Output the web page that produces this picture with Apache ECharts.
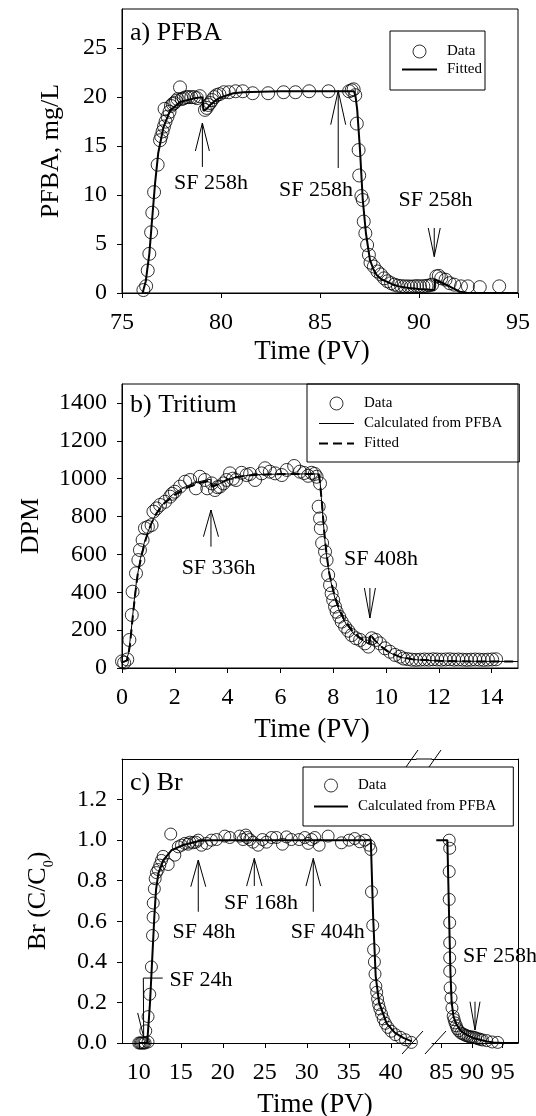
<!DOCTYPE html>
<html>
<head>
<meta charset="utf-8">
<script src="https://cdn.jsdelivr.net/npm/echarts@6/dist/echarts.min.js"></script>
<style>html,body{margin:0;padding:0;background:#fff}#c{width:536px;height:1116px}</style>
</head>
<body>
<div id="c"></div>
<script>
// ---------------- DATA ----------------
// a) PFBA  [time (PV), mg/L]
const pfbaData = [[76.08,0.3],[76.22,0.7],[76.3,2.3],[76.38,4.0],[76.47,6.2],[76.53,8.2],[76.62,10.3],[76.8,13.1],[76.92,15.6],[76.98,16.0],[77.05,16.5],[77.12,17.0],[77.2,17.5],[77.15,18.8],[77.3,18.0],[77.4,18.5],[77.47,19.1],[77.56,19.3],[77.64,19.4],[77.73,19.6],[77.81,19.8],[77.93,21.0],[78.02,19.8],[78.12,19.9],[78.24,20.0],[78.36,20.0],[78.5,20.0],[78.64,20.0],[78.78,19.9],[78.93,20.1],[79.19,18.7],[79.28,18.9],[79.36,19.2],[79.45,19.4],[79.55,19.7],[79.66,20.0],[79.78,20.2],[79.92,20.3],[80.14,20.5],[80.4,20.5],[80.74,20.6],[81.1,20.6],[81.6,20.4],[82.38,20.4],[83.16,20.5],[83.76,20.5],[84.45,20.6],[85.43,20.6],[86.47,20.6],[86.6,20.7],[86.7,20.8],[86.78,20.2],[86.86,17.3],[86.95,14.6],[86.98,12.0],[87.09,9.9],[87.16,9.5],[87.21,7.3],[87.29,6.1],[87.38,4.9],[87.47,3.9],[87.55,3.1],[87.72,2.7],[87.9,2.2],[88.07,1.9],[88.24,1.5],[88.41,1.2],[88.59,1.0],[88.76,0.85],[88.93,0.75],[89.1,0.7],[89.27,0.68],[89.45,0.68],[89.6,0.65],[89.75,0.68],[89.9,0.7],[90.05,0.68],[90.22,0.7],[90.38,0.72],[90.52,0.78],[90.66,0.85],[90.88,1.7],[91.0,1.75],[91.12,1.5],[91.34,1.36],[91.55,1.0],[91.78,0.85],[92.12,0.68],[92.47,0.68],[93.07,0.6],[94.05,0.68]];
const pfbaFit = [[76.04,0],[76.2,1.2],[76.38,4.0],[76.5,7.0],[76.67,11.2],[76.83,14.3],[77.09,16.9],[77.42,18.6],[77.93,19.5],[78.6,19.85],[79.05,20.0],[79.12,18.6],[79.3,18.85],[79.5,19.3],[79.75,19.7],[79.95,19.95],[80.62,20.4],[81.13,20.5],[82,20.55],[83,20.6],[86.72,20.6],[86.8,20.0],[86.88,18.7],[87.02,14.6],[87.16,9.5],[87.32,6.1],[87.52,3.4],[87.7,2.4],[87.86,1.84],[88.1,1.4],[88.37,1.16],[88.7,0.85],[89.04,0.65],[89.5,0.5],[90,0.4],[90.78,0.31],[90.81,1.4],[91.1,1.1],[91.4,0.82],[91.75,0.45],[92.07,0.14],[92.41,0.02],[93,0],[95,0]];

// b) Tritium [time (PV), DPM]
const tritiumData = [[0.0,35],[0.08,28],[0.2,45],[0.28,148],[0.37,280],[0.4,403],[0.53,500],[0.62,570],[0.68,623],[0.78,676],[0.87,738],[0.98,745],[1.12,755],[1.19,826],[1.31,843],[1.44,861],[1.63,878],[1.82,905],[1.9,920],[2.0,931],[2.2,958],[2.39,984],[2.58,993],[2.8,949],[2.95,1010],[3.14,993],[3.23,949],[3.4,975],[3.52,940],[3.62,955],[3.71,958],[3.84,975],[3.96,993],[4.09,1028],[4.2,1000],[4.32,993],[4.53,1031],[4.72,1019],[4.85,1025],[5.04,993],[5.29,1028],[5.42,1055],[5.6,1037],[5.8,1028],[6.05,1019],[6.24,1046],[6.52,1067],[6.74,1037],[6.9,1030],[7.05,1015],[7.18,1031],[7.3,1025],[7.37,1010],[7.5,975],[7.45,852],[7.5,790],[7.53,738],[7.58,660],[7.69,614],[7.75,570],[7.81,491],[7.88,438],[7.94,394],[8.0,359],[8.07,324],[8.13,297],[8.23,271],[8.32,245],[8.45,218],[8.57,197],[8.7,174],[8.86,157],[9.02,148],[9.2,130],[9.33,113],[9.46,157],[9.62,148],[9.77,130],[9.96,104],[10.15,86],[10.34,69],[10.53,60],[10.66,50],[10.82,47],[10.98,44],[11.14,43],[11.3,44],[11.46,45],[11.62,44],[11.78,46],[11.94,45],[12.1,44],[12.26,45],[12.42,46],[12.58,44],[12.74,45],[12.9,44],[13.06,43],[13.22,44],[13.38,45],[13.54,44],[13.7,43],[13.86,44],[14.02,45],[14.17,46]];
const tritiumCalc = [[0,30],[0.15,35],[0.25,80],[0.35,200],[0.45,340],[0.55,460],[0.7,580],[0.85,665],[1.0,725],[1.2,790],[1.4,840],[1.7,890],[2.0,925],[2.4,958],[2.8,980],[3.2,993],[3.36,997],[3.4,955],[3.6,965],[3.9,990],[4.3,1008],[4.8,1018],[5.5,1023],[6.5,1025],[7.45,1025],[7.5,990],[7.55,900],[7.62,780],[7.7,650],[7.8,540],[7.95,430],[8.1,350],[8.3,280],[8.5,230],[8.75,185],[9.0,155],[9.3,130],[9.38,125],[9.42,175],[9.6,145],[9.8,115],[10.0,92],[10.3,70],[10.6,55],[11.0,45],[11.5,40],[12.5,36],[14,35],[15,34]];
const tritiumFit = [[0,30],[0.2,40],[0.3,120],[0.4,260],[0.5,390],[0.6,500],[0.75,600],[0.9,680],[1.1,760],[1.3,815],[1.6,870],[2.0,915],[2.5,955],[3.0,980],[3.35,990],[3.4,960],[3.6,968],[4.0,995],[4.5,1012],[5.0,1020],[6.0,1024],[7.45,1025],[7.5,980],[7.58,860],[7.66,720],[7.75,600],[7.85,500],[8.0,410],[8.2,320],[8.4,260],[8.7,200],[9.0,160],[9.35,130],[9.4,180],[9.55,150],[9.8,115],[10.1,85],[10.5,60],[11.0,46],[12,38],[13,35],[15,34]];

// c) Br [time (PV), C/C0] - early segment and late segment of broken axis
const brDataEarly = [[10.0,0],[10.15,0],[10.3,0],[10.45,0],[10.6,0],[10.75,0],[11.1,0.005],[10.83,0.06],[11.1,0.13],[11.3,0.24],[11.5,0.375],[11.63,0.53],[11.7,0.62],[11.72,0.69],[11.85,0.76],[11.95,0.81],[12.1,0.84],[12.3,0.855],[12.5,0.877],[12.7,0.9],[12.9,0.92],[13.5,0.88],[13.8,1.03],[14.29,0.926],[14.7,0.967],[15.08,0.975],[15.48,0.984],[15.87,0.98],[16.07,0.99],[16.47,0.987],[16.79,0.99],[17.06,1.0],[17.46,0.975],[18.06,0.984],[18.65,1.0],[19.25,1.003],[20.24,1.02],[20.83,1.013],[22.02,1.02],[22.42,1.003],[22.74,1.025],[22.9,1.013],[23.21,1.003],[23.6,0.99],[24.2,0.975],[24.72,1.003],[25.2,0.99],[25.8,1.013],[26.39,1.013],[27.1,0.98],[27.58,1.016],[28.17,1.003],[29.09,1.003],[29.76,1.013],[30.16,0.984],[30.56,1.003],[30.95,1.013],[31.47,0.975],[32.54,1.02],[34.13,0.987],[35.04,1.0],[35.71,1.008],[36.31,0.992],[36.9,1.0],[37.42,0.975],[37.62,0.954],[37.7,0.745],[37.85,0.58],[37.95,0.46],[38.05,0.40],[38.12,0.34],[38.22,0.28],[38.32,0.25],[38.43,0.217],[38.55,0.19],[38.7,0.168],[38.9,0.143],[39.1,0.119],[39.35,0.097],[39.65,0.077],[40.05,0.058],[40.55,0.041],[41.15,0.028],[41.75,0.016],[42.45,0.003]];
const brDataLate = [[86.3,1.0],[86.38,0.96],[86.3,0.845],[86.3,0.708],[86.38,0.593],[86.38,0.494],[86.38,0.42],[86.38,0.354],[86.45,0.272],[86.6,0.222],[86.75,0.173],[86.95,0.132],[87.1,0.115],[87.25,0.099],[87.45,0.085],[87.6,0.071],[87.85,0.06],[88.2,0.049],[88.5,0.045],[88.8,0.04],[89.1,0.036],[89.4,0.033],[89.7,0.03],[90.0,0.03],[90.3,0.028],[90.6,0.025],[91.0,0.021],[91.35,0.018],[91.7,0.015],[92.4,0.012],[93.3,0.005],[94.2,0.003]];
const brCalcEarly = [[10.0,0],[11.0,0],[11.33,0.195],[11.61,0.426],[11.85,0.623],[12.05,0.755],[12.33,0.836],[12.92,0.902],[13.91,0.951],[15.3,0.976],[17.3,0.997],[18.5,1.0],[37.62,1.0],[37.9,0.62],[38.2,0.33],[38.6,0.2],[39.5,0.097],[40.5,0.05],[41.5,0.025],[42.5,0.008]];
const brCalcLate = [[84.2,1.0],[86.0,1.0],[86.3,0.6],[86.5,0.35],[86.7,0.2],[87.0,0.13],[87.5,0.09],[88.2,0.06],[89.15,0.04],[90.2,0.025],[91.3,0.016],[92.4,0.008],[93.5,0.003],[95,0],[97.5,0]];

// tick values
const ticksAx = [75, 80, 85, 90, 95];
const ticksAy = [0, 5, 10, 15, 20, 25];
const ticksBx = [0, 2, 4, 6, 8, 10, 12, 14];
const ticksBy = [0, 200, 400, 600, 800, 1000, 1200, 1400];
const ticksCxEarly = [10, 15, 20, 25, 30, 35, 40];
const ticksCxLate = [85, 90, 95];
const ticksCy = [0, 0.2, 0.4, 0.6, 0.8, 1.0, 1.2];

// annotation texts (data coordinates of text centre) and arrows (tip / tail in data coords)
const notes = [
  {axes:[0,0], text:'SF 258h', at:[79.5,11.23]},
  {axes:[0,0], text:'SF 258h', at:[84.8,10.52]},
  {axes:[0,0], text:'SF 258h', at:[90.83,9.5]},
  {axes:[1,1], text:'SF 336h', at:[3.66,528]},
  {axes:[1,1], text:'SF 408h', at:[9.81,576]},
  {axes:[2,2], text:'SF 48h', at:[17.76,0.547]},
  {axes:[2,2], text:'SF 168h', at:[24.55,0.69]},
  {axes:[2,2], text:'SF 404h', at:[32.5,0.547]},
  {axes:[2,2], text:'SF 24h', at:[17.4,0.31]},
  {axes:[3,3], text:'SF 258h', at:[94.57,0.43]}
];
const arrows = [
  {axes:[0,0], tip:[79.06,17.36], tail:[79.06,12.87], head:28, half:7},
  {axes:[0,0], tip:[85.92,20.66], tail:[85.92,12.76], head:34, half:7.5},
  {axes:[0,0], tip:[90.77,3.71], tail:[90.77,6.64], head:28.7, half:6},
  {axes:[1,1], tip:[3.37,834.5], tail:[3.37,640.7], head:26.7, half:7.5},
  {axes:[1,1], tip:[9.39,264], tail:[9.39,422.5], head:30, half:5.5},
  {axes:[2,2], tip:[17.08,0.902], tail:[17.08,0.647], head:26.7, half:7.5},
  {axes:[2,2], tip:[23.75,0.91], tail:[23.75,0.774], head:27.7, half:7.7},
  {axes:[2,2], tip:[30.77,0.91], tail:[30.77,0.647], head:27.7, half:7.3},
  {axes:[2,2], tip:[10.58,0.03], tail:[10.54,0.32], head:24, half:6, leftOnly:true},
  {axes:[3,3], tip:[90.5,0.064], tail:[90.5,0.2036], head:28.3, half:5}
];
const leaders = [ {axes:[2,2], pts:[[10.54,0.32],[12.85,0.32]]} ];

// ---------------- CHART ----------------
const FONT = 'Liberation Serif';
const BLACK = '#000';
const chart = echarts.init(document.getElementById('c'), null, {renderer:'canvas'});

const titleName = {color:BLACK, fontFamily:FONT, fontSize:27, verticalAlign:'top', padding:[0,16,0,0]};
function mainX(grid, min, max, ticks, name, gap) {
  return {
    type:'value', gridIndex:grid, min:min, max:max, position:'bottom',
    axisLine:{show:true, onZero:false, lineStyle:{color:BLACK, width:1}},
    axisTick:{show:true, inside:false, length:5, customValues:ticks, lineStyle:{color:BLACK, width:1}},
    axisLabel:{show:true, customValues:ticks, color:BLACK, fontFamily:FONT, fontSize:24, margin:18, formatter:v => String(v)},
    splitLine:{show:false},
    name:name || '', nameLocation:'middle', nameGap:gap || 0,
    nameTextStyle:titleName
  };
}
function mainY(grid, min, max, ticks, name, gap, fmt, extraName) {
  return {
    type:'value', gridIndex:grid, min:min, max:max, position:'left',
    axisLine:{show:true, onZero:false, lineStyle:{color:BLACK, width:1}},
    axisTick:{show:true, inside:false, length:5, customValues:ticks, lineStyle:{color:BLACK, width:1}},
    axisLabel:{show:true, customValues:ticks, color:BLACK, fontFamily:FONT, fontSize:24, margin:15, formatter:fmt || (v => String(v))},
    splitLine:{show:false},
    name:name, nameLocation:'middle', nameGap:gap, nameRotate:90,
    nameTextStyle:Object.assign({color:BLACK, fontFamily:FONT, fontSize:26, verticalAlign:'middle', align:'center'}, extraName || {})
  };
}
function lineOnly(grid, min, max, pos) {
  return {
    type:'value', gridIndex:grid, min:min, max:max, position:pos,
    axisLine:{show:true, onZero:false, lineStyle:{color:BLACK, width:1}},
    axisTick:{show:false}, axisLabel:{show:false}, splitLine:{show:false}
  };
}
const gridBase = {containLabel:false, outerBoundsMode:'none'};
const dataStyle = {color:'rgba(0,0,0,0)', borderColor:BLACK, borderWidth:1};

const legendBase = {
  orient:'vertical', itemWidth:35, itemHeight:13, borderColor:BLACK, borderWidth:1,
  selectedMode:false, backgroundColor:'rgba(255,255,255,0)',
  textStyle:{color:BLACK, fontFamily:FONT, fontSize:15, padding:[0,0,0,5]}
};
const noSym = {opacity:0};

const option = {
  animation:false,
  backgroundColor:'#fff',
  title:[
    {text:'a) PFBA', left:130, top:20, padding:0, textStyle:{fontFamily:FONT, fontSize:26, fontWeight:'normal', color:BLACK}},
    {text:'b) Tritium', left:130, top:392, padding:0, textStyle:{fontFamily:FONT, fontSize:26, fontWeight:'normal', color:BLACK}},
    {text:'c) Br', left:130, top:770, padding:0, textStyle:{fontFamily:FONT, fontSize:26, fontWeight:'normal', color:BLACK}}
  ],
  legend:[
    Object.assign({}, legendBase, {left:390, top:31, padding:[13,3,13,11], itemGap:3,
      data:[{name:'Data', itemStyle:dataStyle}, {name:'Fitted', itemStyle:noSym, lineStyle:{width:2, type:'solid', color:BLACK}}]}),
    Object.assign({}, legendBase, {left:307, top:384, padding:[12,17,11,11], itemGap:5,
      data:[{name:'Data', itemStyle:dataStyle},
            {name:'Calculated from PFBA', itemStyle:noSym, lineStyle:{width:1, type:'solid', color:BLACK}},
            {name:'Fitted', itemStyle:noSym, lineStyle:{width:2, type:[9,5], color:BLACK}}]}),
    Object.assign({}, legendBase, {left:303, top:767, padding:[11,17,12,10], itemGap:6, itemWidth:34,
      data:[{name:'Data', itemStyle:dataStyle},
            {name:'Calculated from PFBA', itemStyle:noSym, lineStyle:{width:2, type:'solid', color:BLACK}}]})
  ],
  grid:[
    Object.assign({}, gridBase, {left:122, top:9, width:396, height:284, show:true, borderColor:BLACK, borderWidth:1, backgroundColor:'rgba(0,0,0,0)'}),
    Object.assign({}, gridBase, {left:122, top:384, width:396, height:284, show:true, borderColor:BLACK, borderWidth:1, backgroundColor:'rgba(0,0,0,0)'}),
    Object.assign({}, gridBase, {left:122, top:759, width:294, height:284, show:false}),
    Object.assign({}, gridBase, {left:432, top:759, width:86, height:284, show:false}),
    Object.assign({}, gridBase, {left:122, top:759, width:396, height:284, show:false})
  ],
  xAxis:[
    mainX(0, 75, 95, ticksAx, 'Time (PV)', 45),
    mainX(1, 0, 15, ticksBx, 'Time (PV)', 48),
    mainX(2, 8, 43, ticksCxEarly, '', 0),
    mainX(3, 83.5, 97.5, ticksCxLate, '', 0),
    lineOnly(2, 8, 43, 'top'),
    lineOnly(3, 83.5, 97.5, 'top'),
    {type:'value', gridIndex:4, min:0, max:1, axisLine:{show:false}, axisTick:{show:false}, axisLabel:{show:false}, splitLine:{show:false},
     name:'Time (PV)', nameLocation:'middle', nameGap:48, nameTextStyle:Object.assign({}, titleName, {padding:[0,10,0,0]})}
  ],
  yAxis:[
    mainY(0, 0, 29, ticksAy, 'PFBA, mg/L', 71),
    mainY(1, 0, 1500, ticksBy, 'DPM', 91),
    mainY(2, 0, 1.4, ticksCy, 'Br (C/C{sub|0})', 84, v => v.toFixed(1),
      {lineHeight:37, rich:{sub:{fontSize:14, fontFamily:FONT, color:BLACK, lineHeight:14, verticalAlign:'bottom'}}}),
    lineOnly(3, 0, 1.4, 'right'),
    {type:'value', gridIndex:4, min:0, max:1, show:false}
  ],
  series:[
    {type:'scatter', name:'Data', xAxisIndex:0, yAxisIndex:0, data:pfbaData, symbol:'circle', symbolSize:13, itemStyle:dataStyle, z:3},
    {type:'line', name:'Fitted', xAxisIndex:0, yAxisIndex:0, data:pfbaFit, symbol:'none', lineStyle:{color:BLACK, width:2}, z:2},
    {type:'scatter', name:'Data', xAxisIndex:1, yAxisIndex:1, data:tritiumData, symbol:'circle', symbolSize:13, itemStyle:dataStyle, z:3},
    {type:'line', name:'Calculated from PFBA', xAxisIndex:1, yAxisIndex:1, data:tritiumCalc, symbol:'none', lineStyle:{color:BLACK, width:1}, z:2},
    {type:'line', name:'Fitted', xAxisIndex:1, yAxisIndex:1, data:tritiumFit, symbol:'none', lineStyle:{color:BLACK, width:2, type:[9,5]}, z:2},
    {type:'scatter', name:'Data', xAxisIndex:2, yAxisIndex:2, data:brDataEarly, symbol:'circle', symbolSize:12, itemStyle:dataStyle, z:3},
    {type:'line', name:'Calculated from PFBA', xAxisIndex:2, yAxisIndex:2, data:brCalcEarly, symbol:'none', lineStyle:{color:BLACK, width:2}, z:2},
    {type:'scatter', name:'Data', xAxisIndex:3, yAxisIndex:3, data:brDataLate, symbol:'circle', symbolSize:12, itemStyle:dataStyle, z:3},
    {type:'line', name:'Calculated from PFBA', xAxisIndex:3, yAxisIndex:3, data:brCalcLate, symbol:'none', lineStyle:{color:BLACK, width:2}, z:2}
  ]
};
chart.setOption(option);

// ---------- annotations placed through the axes' own scales ----------
const toPx = (axes, p) => chart.convertToPixel({xAxisIndex:axes[0], yAxisIndex:axes[1]}, p);
const ln = {stroke:BLACK, lineWidth:1, fill:null};
const gfx = [];
notes.forEach(n => {
  const p = toPx(n.axes, n.at);
  gfx.push({type:'text', x:p[0], y:p[1], z:100, silent:true,
    style:{text:n.text, font:'22px "Liberation Serif"', fill:BLACK, textAlign:'center', textVerticalAlign:'middle'}});
});
arrows.forEach(a => {
  const tip = toPx(a.axes, a.tip), tail = toPx(a.axes, a.tail);
  const dir = tail[1] > tip[1] ? 1 : -1;
  gfx.push({type:'polyline', z:100, silent:true, shape:{points:[tail, tip]}, style:ln});
  const hy = tip[1] + dir * a.head;
  const pts = a.leftOnly ? [[tip[0] - a.half, hy], tip] : [[tip[0] - a.half, hy], tip, [tip[0] + a.half, hy]];
  gfx.push({type:'polyline', z:100, silent:true, shape:{points:pts}, style:ln});
});
leaders.forEach(l => {
  gfx.push({type:'polyline', z:100, silent:true, shape:{points:l.pts.map(p => toPx(l.axes, p))}, style:ln});
});
// broken-axis marks for panel c
const leftEnd = toPx([2,2],[43,1.4]);
const leftBot = toPx([2,2],[43,0]);
const rightStart = toPx([3,3],[83.5,0]);
const topY = leftEnd[1], botY = leftBot[1];
gfx.push({type:'line', z:100, silent:true, shape:{x1:leftEnd[0], y1:topY, x2:rightStart[0], y2:topY}, style:ln});
[leftEnd[0] - 4, rightStart[0] + 3].forEach(cx => {
  gfx.push({type:'line', z:100, silent:true, shape:{x1:cx - 6, y1:topY + 8, x2:cx + 6, y2:topY - 9}, style:ln});
  gfx.push({type:'line', z:100, silent:true, shape:{x1:cx - 10, y1:botY + 11, x2:cx + 11, y2:botY - 12}, style:ln});
});
chart.setOption({graphic:gfx});
</script>
</body>
</html>
